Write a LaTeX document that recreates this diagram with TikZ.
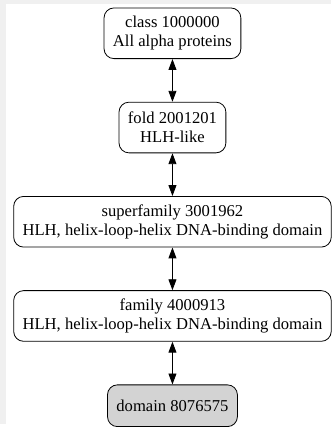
\documentclass[tikz,border=0pt]{standalone}
\usepackage{fontspec}
\setmainfont{Liberation Serif}
\usepackage{tikz}
\usetikzlibrary{positioning}
\usetikzlibrary{arrows.meta}
\usepackage{xcolor}
\definecolor{bggray}{HTML}{F0F0F0}
\definecolor{leafgray}{HTML}{D3D3D3}

\begin{document}
\begin{tikzpicture}[x=1pt, y=1pt, node distance=43pt,
		level/.style={draw=black, line width=0.8pt, rounded corners=10pt, align=center, minimum height=51pt, inner xsep=9pt, fill=white, font=\fontsize{16.7}{19}\selectfont},
		link/.style={black, line width=0.9pt, {Triangle[length=11pt,width=8pt]}-{Triangle[length=11pt,width=8pt]}}]
				\fill[bggray] (0, 0) rectangle (333, 427);
				\fill[white] (6, 0) rectangle (333, 423);
				\node[level] (class) at (173.5, 393.5) {class 1000000\\All alpha proteins};
				\node[level, below=of class] (fold) {fold 2001201\\HLH-like};
				\node[level, below=of fold] (superfamily) {superfamily 3001962\\HLH, helix-loop-helix DNA-binding domain};
				\node[level, below=of superfamily] (family) {family 4000913\\HLH, helix-loop-helix DNA-binding domain};
				\node[level, below=of family, fill=leafgray, minimum height=42pt] (domain) {domain 8076575};
				\draw[link] (class) -- (fold);
				\draw[link] (fold) -- (superfamily);
				\draw[link] (superfamily) -- (family);
				\draw[link] (family) -- (domain);
			\end{tikzpicture}
\end{document}
